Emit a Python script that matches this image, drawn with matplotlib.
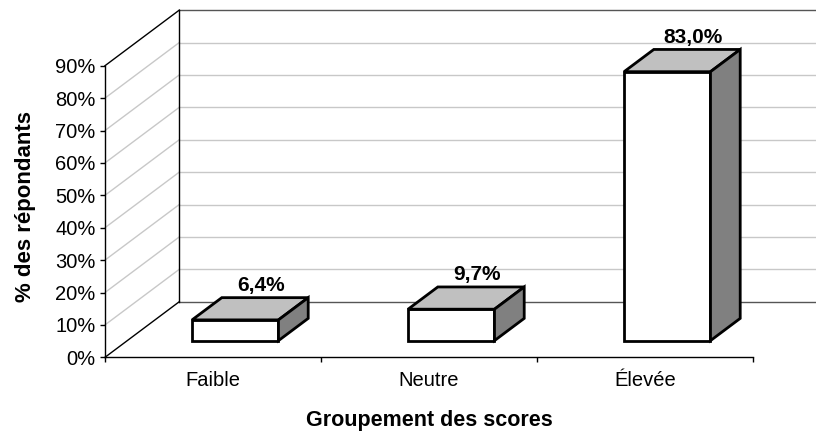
import numpy as np
import matplotlib.pyplot as plt
from matplotlib.patches import Polygon

plt.rcParams['font.family'] = ['Liberation Sans', 'DejaVu Sans']

# Score groups and share of respondents (%)
categories = ['Faible', 'Neutre', 'Élevée']
values = [6.4, 9.7, 83.0]
value_labels = ['6,4%', '9,7%', '83,0%']
y_ticks = [0, 10, 20, 30, 40, 50, 60, 70, 80, 90]
y_tick_labels = ['0%', '10%', '20%', '30%', '40%', '50%', '60%', '70%', '80%', '90%']

W, H = 816, 434
fig = plt.figure(figsize=(W / 100, H / 100), dpi=100)
# front plane of the 3D box, in pixels
left, right, bottom, top = 105, 753, 357.3, 65.7
ax = fig.add_axes([left / W, 1 - bottom / H, (right - left) / W, (bottom - top) / H])
ax.set_xlim(0, 3)
ax.set_ylim(0, 90)
ax.patch.set_visible(False)

# depth offset (full depth) expressed in data units
DX = 74.3 / ((right - left) / 3)
DY = 55.6 / ((bottom - top) / 90)


def proj(x, y, d):
    return (x + d * DX, y + d * DY)


# back wall gridlines
for v in y_ticks:
    col = '#555555' if v in (0, 90) else '#c8c8c8'
    x0, y0 = proj(0, v, 1)
    x1, y1 = proj(3, v, 1)
    ax.plot([x0, x1], [y0, y1], color=col, lw=1, clip_on=False, zorder=1)
    # side wall lines
    col = 'black' if v in (0, 90) else '#c8c8c8'
    ax.plot([0, x0], [v, y0], color=col, lw=1, clip_on=False, zorder=1)
bx0, by0 = proj(0, 0, 1)
bx1, by1 = proj(0, 90, 1)
ax.plot([bx0, bx1], [by0, by1], color='black', lw=1, clip_on=False, zorder=1)

# 3D bars
bar_w = 0.4
d0, d1 = 0.3, 0.7
for i, (v, lab) in enumerate(zip(values, value_labels)):
    xl = i + 0.5 - bar_w / 2
    xr = i + 0.5 + bar_w / 2
    front = [proj(xl, 0, d0), proj(xr, 0, d0), proj(xr, v, d0), proj(xl, v, d0)]
    topf = [proj(xl, v, d0), proj(xr, v, d0), proj(xr, v, d1), proj(xl, v, d1)]
    side = [proj(xr, 0, d0), proj(xr, 0, d1), proj(xr, v, d1), proj(xr, v, d0)]
    for pts, fc in ((front, 'white'), (topf, '#c0c0c0'), (side, '#808080')):
        ax.add_patch(Polygon(pts, closed=True, facecolor=fc, edgecolor='black',
                             lw=2.0, joinstyle='miter', clip_on=False, zorder=3))
    tx, ty = proj(i + 0.5, v, 0.65)
    ax.annotate(lab, (tx, ty), xytext=(0, 7), textcoords='offset points',
                ha='center', va='baseline', fontsize=15, fontweight='bold',
                annotation_clip=False, zorder=4)

ax.spines['top'].set_visible(False)
ax.spines['right'].set_visible(False)
ax.spines['left'].set_linewidth(1)
ax.spines['bottom'].set_linewidth(1)

ax.set_yticks(y_ticks)
ax.set_yticklabels(y_tick_labels, fontsize=14.5)
ax.tick_params(axis='y', direction='out', length=3.6, pad=3.2, width=1)

ax.set_xticks([0, 1, 2, 3])
ax.set_xticklabels([])
ax.set_xticks([0.5, 1.5, 2.5], minor=True)
ax.set_xticklabels(categories, minor=True, fontsize=14.5)
ax.tick_params(axis='x', which='major', direction='out', length=3.6, width=1)
ax.tick_params(axis='x', which='minor', length=0, pad=10)

ax.set_xlabel('Groupement des scores', fontsize=15.5, fontweight='bold', labelpad=14)
ax.set_ylabel('% des répondants', fontsize=16, fontweight='bold')
ax.yaxis.set_label_coords(-0.106, 0.516)

plt.savefig('out.png', dpi=100)
